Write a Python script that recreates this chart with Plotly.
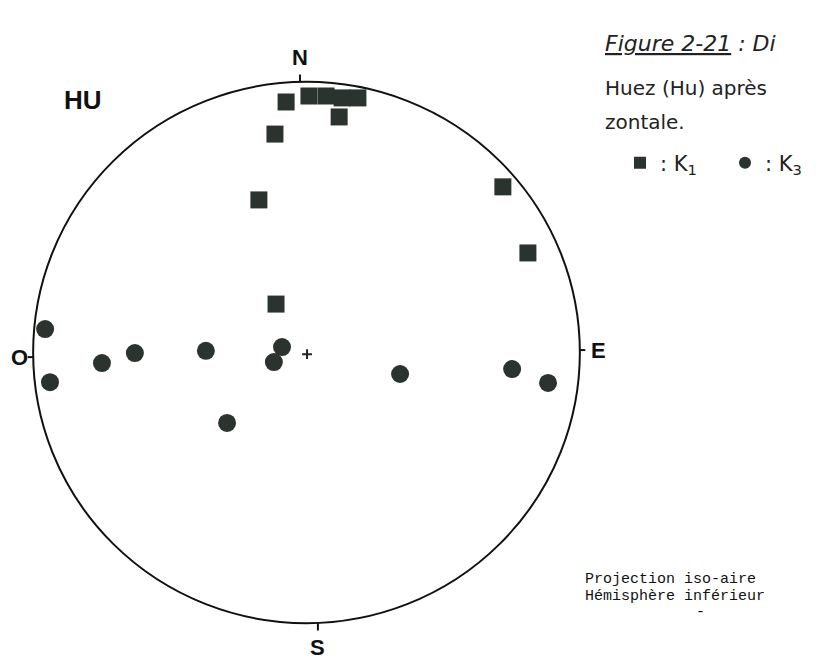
import plotly.graph_objects as go

# ---- data (unit-circle coordinates read from the stereonet) ----
k1_x = [-0.075, 0.009, 0.072, 0.131, 0.189, 0.120, -0.116, -0.175, -0.112, 0.722, 0.814]
k1_y = [0.921, 0.943, 0.943, 0.936, 0.936, 0.866, 0.803, 0.561, 0.178, 0.609, 0.366]
k3_x = [-0.961, -0.943, -0.752, -0.631, -0.370, -0.090, -0.120, -0.292, 0.344, 0.756, 0.888]
k3_y = [0.086, -0.109, -0.039, -0.002, 0.006, 0.020, -0.035, -0.259, -0.079, -0.061, -0.112]
compass_labels = ["N", "E", "S", "O"]
compass_x = [-0.024, 1.072, 0.042, -1.057]
compass_y = [1.083, 0.009, -1.086, -0.017]
caption_lines = ["<i><u>Figure 2-21</u> : Di</i>", "Huez (Hu) après", "zontale."]
projection_lines = ["Projection iso-aire", "Hémisphère inférieur"]

W, H = 819, 661
R, CX, CY = 272.0, 306.5, 352.5
INK = "#2b332f"


def px(x):
    return x / W


def py(y):
    return 1 - y / H


fig = go.Figure()
fig.add_trace(go.Scatter(x=k1_x, y=k1_y, mode="markers", name=": K<sub>1</sub>",
                         marker=dict(symbol="square", size=17, color=INK, line=dict(width=0))))
fig.add_trace(go.Scatter(x=k3_x, y=k3_y, mode="markers", name=": K<sub>3</sub>",
                         marker=dict(symbol="circle", size=18, color=INK, line=dict(width=0))))
fig.add_trace(go.Scatter(x=[0.002], y=[-0.006], mode="markers", showlegend=False,
                         marker=dict(symbol="cross-thin", size=7, line=dict(width=2, color="#222"))))

# primitive circle
fig.add_shape(type="circle", xref="x", yref="y", x0=-1.005, x1=1.005, y0=-0.995, y1=0.995,
              line=dict(color="#111", width=2))
# cardinal ticks
ticks = [(-0.024, 0.995, -0.024, 1.022), (0.042, -0.995, 0.042, -1.022),
         (1.005, 0.009, 1.025, 0.009), (-1.005, -0.017, -1.025, -0.017)]
for x0, y0, x1, y1 in ticks:
    fig.add_shape(type="line", xref="x", yref="y", x0=x0, y0=y0, x1=x1, y1=y1,
                  line=dict(color="#111", width=2))

bold_font = dict(family="Liberation Sans Narrow, Liberation Sans, Arial, sans-serif", size=22, color="#111")
for lab, x, y in zip(compass_labels, compass_x, compass_y):
    fig.add_annotation(x=x, y=y, xref="x", yref="y", text="<b>%s</b>" % lab, showarrow=False,
                       font=bold_font, xanchor="center", yanchor="middle")

fig.add_annotation(x=px(83), y=py(100), xref="paper", yref="paper", text="<b>HU</b>",
                   showarrow=False, xanchor="center", yanchor="middle",
                   font=dict(family="Liberation Sans Narrow, Liberation Sans, Arial, sans-serif", size=26, color="#111"))

for txt, yy, fs in zip(caption_lines, [44, 88, 122], [22, 20, 20]):
    fig.add_annotation(x=px(603), y=py(yy), xref="paper", yref="paper", text=txt, showarrow=False,
                       xanchor="left", yanchor="middle",
                       font=dict(family="DejaVu Sans, sans-serif", size=fs, color="#222"))

mono = dict(family="Liberation Mono, DejaVu Sans Mono, monospace", size=15, color="#111")
for txt, yy in zip(projection_lines, [579, 596]):
    fig.add_annotation(x=px(583), y=py(yy), xref="paper", yref="paper", text=txt, showarrow=False,
                       xanchor="left", yanchor="middle", font=mono)
fig.add_annotation(x=px(700), y=py(612), xref="paper", yref="paper", text="-", showarrow=False,
                   xanchor="center", yanchor="middle", font=mono)

fig.update_layout(
    width=W, height=H, margin=dict(l=0, r=0, t=0, b=0, autoexpand=False),
    paper_bgcolor="white", plot_bgcolor="white",
    xaxis=dict(range=[-CX / R, (W - CX) / R], visible=False, fixedrange=True),
    yaxis=dict(range=[(CY - H) / R, CY / R], visible=False, fixedrange=True),
    showlegend=True,
    legend=dict(orientation="h", x=px(620), y=py(163), xanchor="left", yanchor="middle",
                entrywidth=60, entrywidthmode="pixels",
                font=dict(family="DejaVu Sans, sans-serif", size=21, color="#222"),
                bgcolor="rgba(0,0,0,0)", itemsizing="constant"),
)

fig.write_html("out.html", config={"displayModeBar": False},
               post_script="document.body.style.margin='0';document.body.style.overflow='hidden';")
